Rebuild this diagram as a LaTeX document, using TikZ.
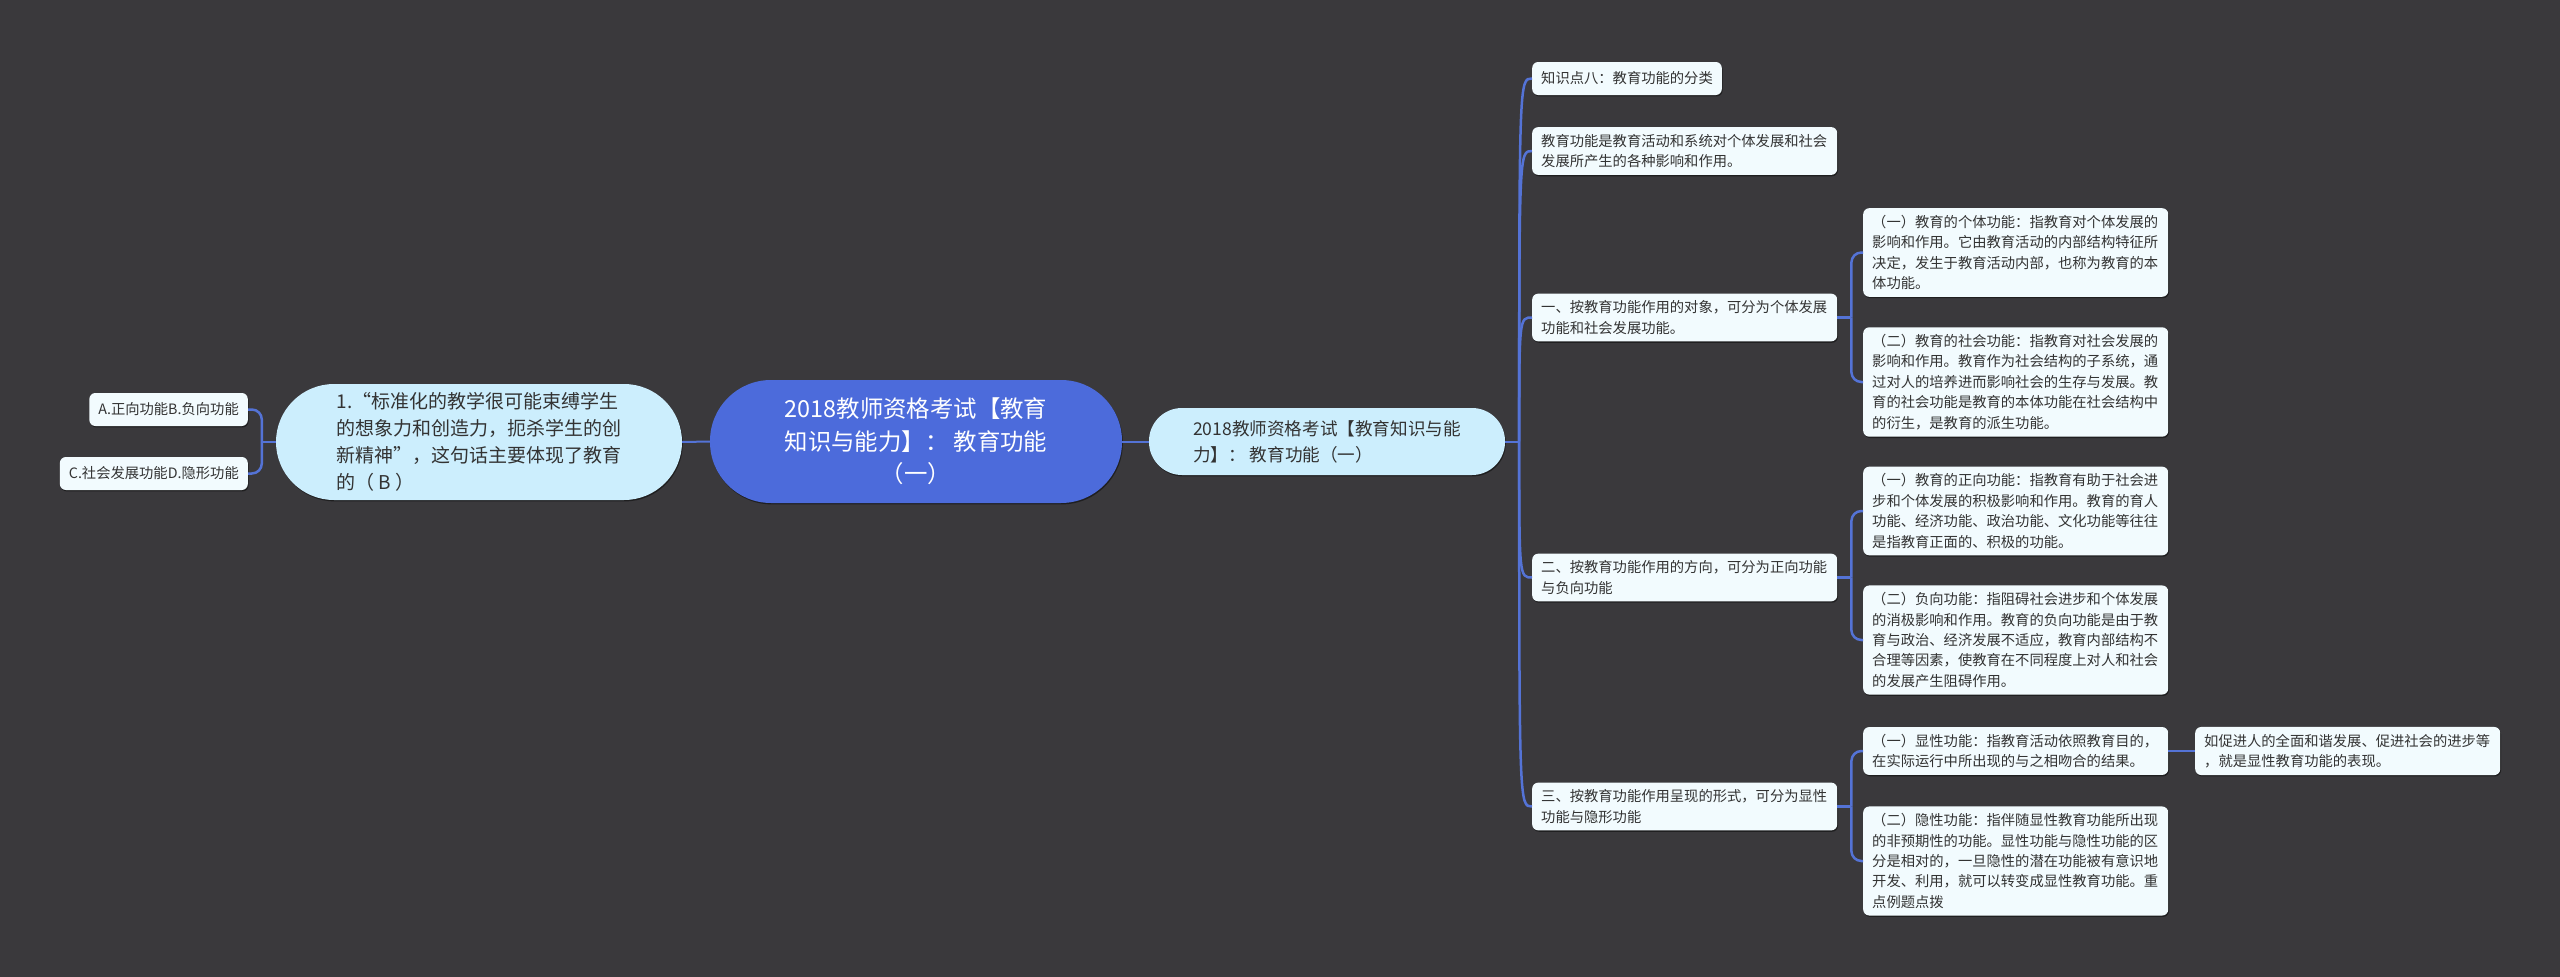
\documentclass[tikz,border=0pt]{standalone}
\usepackage{fontspec}
\setmainfont{Noto Sans CJK SC}
\usetikzlibrary{calc,shadows}
\definecolor{bgc}{RGB}{58,57,60}
\definecolor{rootc}{RGB}{76,107,219}
\definecolor{lonec}{RGB}{204,238,253}
\definecolor{leafc}{RGB}{242,251,254}
\definecolor{txtc}{RGB}{51,51,51}
\definecolor{connc}{RGB}{84,115,214}
\begin{document}
\begin{tikzpicture}[x=1pt,y=-1pt,
  conn/.style={draw=connc, line width=2.5pt},
  thinconn/.style={draw=connc, line width=2pt},
  shad/.style={drop shadow={shadow xshift=0.8pt, shadow yshift=-1.4pt, opacity=0.45, fill=black}},
  leafbox/.style={shad, fill=leafc, rounded corners=6pt, text=txtc,
    font=\fontsize{14.3}{20.4}\selectfont, inner xsep=9pt, inner ysep=7pt, align=left},
  wbox/.style={leafbox, text width=287pt},
  rootbox/.style={shad, fill=rootc, rounded corners=61pt, text=white,
    font=\fontsize{23.4}{32.6}\selectfont, align=center,
    minimum width=412pt, minimum height=123pt},
  lonebox/.style={shad, fill=lonec, text=txtc, align=left}
]
\useasboundingbox (0,0) rectangle (2560,977);
\fill[bgc] (0,0) rectangle (2560,977);

% root
\node[rootbox] (root) at (916,441.5) {2018教师资格考试【教育\\知识与能力】： 教育功能\\（一）};

% level 1
\node[lonebox, rounded corners=33pt, minimum width=356pt, minimum height=67pt,
  font=\fontsize{17.6}{26}\selectfont] (r1) at (1327,441.5)
  {2018教师资格考试【教育知识与能\\力】： 教育功能（一）};
\node[lonebox, rounded corners=58pt, minimum width=406pt, minimum height=116pt,
  font=\fontsize{19}{27}\selectfont] (l1) at (479,442)
  {1.“标准化的教学很可能束缚学生\\的想象力和创造力，扼杀学生的创\\新精神”，这句话主要体现了教育\\的（ B ）};

% left leaves
\node[leafbox, anchor=east, minimum height=33pt] (la) at (248,409.5) {A.正向功能B.负向功能};
\node[leafbox, anchor=east, minimum height=33pt] (lc) at (248,473.5) {C.社会发展功能D.隐形功能};

% level 2 (right)
\node[leafbox, anchor=west, minimum height=33pt] (k1) at (1532,78.5) {知识点八：教育功能的分类};
\node[wbox, anchor=west] (k2) at (1532,151) {教育功能是教育活动和系统对个体发展和社会\\发展所产生的各种影响和作用。};
\node[wbox, anchor=west] (k3) at (1532,317.5) {一、按教育功能作用的对象，可分为个体发展\\功能和社会发展功能。};
\node[wbox, anchor=west] (k4) at (1532,577.5) {二、按教育功能作用的方向，可分为正向功能\\与负向功能};
\node[wbox, anchor=west] (k5) at (1532,806.5) {三、按教育功能作用呈现的形式，可分为显性\\功能与隐形功能};

% level 3
\node[wbox, anchor=west] (c3a) at (1863,252.5) {（一）教育的个体功能：指教育对个体发展的\\影响和作用。它由教育活动的内部结构特征所\\决定，发生于教育活动内部，也称为教育的本\\体功能。};
\node[wbox, anchor=west] (c3b) at (1863,382) {（二）教育的社会功能：指教育对社会发展的\\影响和作用。教育作为社会结构的子系统，通\\过对人的培养进而影响社会的生存与发展。教\\育的社会功能是教育的本体功能在社会结构中\\的衍生，是教育的派生功能。};
\node[wbox, anchor=west] (c4a) at (1863,511) {（一）教育的正向功能：指教育有助于社会进\\步和个体发展的积极影响和作用。教育的育人\\功能、经济功能、政治功能、文化功能等往往\\是指教育正面的、积极的功能。};
\node[wbox, anchor=west] (c4b) at (1863,640) {（二）负向功能：指阻碍社会进步和个体发展\\的消极影响和作用。教育的负向功能是由于教\\育与政治、经济发展不适应，教育内部结构不\\合理等因素，使教育在不同程度上对人和社会\\的发展产生阻碍作用。};
\node[wbox, anchor=west] (c5a) at (1863,751) {（一）显性功能：指教育活动依照教育目的，\\在实际运行中所出现的与之相吻合的结果。};
\node[wbox, anchor=west] (c5b) at (1863,861) {（二）隐性功能：指伴随显性教育功能所出现\\的非预期性的功能。显性功能与隐性功能的区\\分是相对的，一旦隐性的潜在功能被有意识地\\开发、利用，就可以转变成显性教育功能。重\\点例题点拨};
\node[wbox, anchor=west] (c5a1) at (2195,751) {如促进人的全面和谐发展、促进社会的进步等\\，就是显性教育功能的表现。};

% connectors: root
\draw[thinconn] (root.east) -- (r1.west);
\draw[thinconn] (root.west) -- (l1.east);

% left bracket
\coordinate (jl) at ($(l1.west)+(-14,0)$);
\draw[thinconn] (l1.west) -- (jl);
\draw[conn, rounded corners=10pt] (jl) |- (la.east);
\draw[conn, rounded corners=10pt] (jl) |- (lc.east);

% right spine
\coordinate (sp) at ($(r1.east)+(14,0)$);
\draw[thinconn] (r1.east) -- (sp);
\foreach \k in {k1,k2,k3,k4,k5}{
  \draw[conn] (sp) .. controls (sp |- \k.west) .. (\k.west);
}

% level 3 brackets
\coordinate (j3) at ($(k3.east)+(14,0)$);
\draw[conn] (k3.east) -- (j3);
\draw[conn, rounded corners=10pt] (j3) |- (c3a.west);
\draw[conn, rounded corners=10pt] (j3) |- (c3b.west);
\coordinate (j4) at ($(k4.east)+(14,0)$);
\draw[conn] (k4.east) -- (j4);
\draw[conn, rounded corners=10pt] (j4) |- (c4a.west);
\draw[conn, rounded corners=10pt] (j4) |- (c4b.west);
\coordinate (j5) at ($(k5.east)+(14,0)$);
\draw[conn] (k5.east) -- (j5);
\draw[conn, rounded corners=10pt] (j5) |- (c5a.west);
\draw[conn, rounded corners=10pt] (j5) |- (c5b.west);
\draw[conn] (c5a.east) -- (c5a1.west);
\end{tikzpicture}
\end{document}
